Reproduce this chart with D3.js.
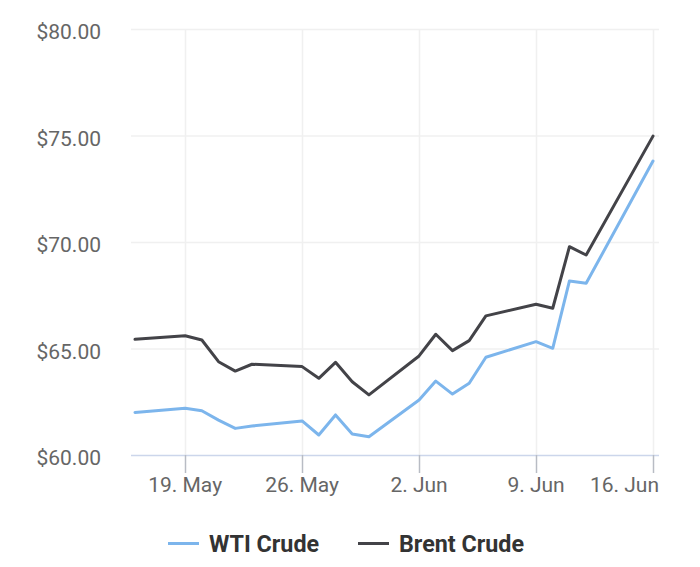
<!DOCTYPE html>
<html>
<head>
<meta charset="utf-8">
<script src="https://cdn.jsdelivr.net/npm/d3@7"></script>
<style>
  html, body { margin: 0; padding: 0; background: #ffffff; }
  svg { display: block; font-family: Roboto, "Noto Sans", sans-serif; }
</style>
</head>
<body>
<svg id="chart" width="700" height="567"></svg>
<script>
// ---- data ----
const dates = [
  "2025-05-16","2025-05-19","2025-05-20","2025-05-21","2025-05-22","2025-05-23",
  "2025-05-26","2025-05-27","2025-05-28","2025-05-29","2025-05-30",
  "2025-06-02","2025-06-03","2025-06-04","2025-06-05","2025-06-06",
  "2025-06-09","2025-06-10","2025-06-11","2025-06-12","2025-06-16"
];
const wti = [62.00, 62.19, 62.08, 61.64, 61.25, 61.36,
             61.60, 60.94, 61.88, 60.99, 60.86,
             62.58, 63.47, 62.86, 63.37, 64.59,
             65.32, 65.01, 68.17, 68.06, 73.80];
const brent = [65.43, 65.60, 65.40, 64.38, 63.94, 64.26,
               64.15, 63.60, 64.35, 63.44, 62.82,
               64.65, 65.67, 64.90, 65.37, 66.53,
               67.08, 66.89, 69.78, 69.39, 74.97];
const seriesNames = ["WTI Crude", "Brent Crude"];
const xTickDates = ["2025-05-19","2025-05-26","2025-06-02","2025-06-09","2025-06-16"];
const xTickLabels = ["19. May","26. May","2. Jun","9. Jun","16. Jun"];
const yTicks = [60, 65, 70, 75, 80];

// ---- layout ----
const plot = { left: 131, right: 659, top: 29, bottom: 455 };
const colors = ["#7cb5ec", "#434348"];
const parse = d3.utcParse("%Y-%m-%d");
const xs = dates.map(parse);

const x = d3.scaleUtc()
  .domain([xs[0], xs[xs.length - 1]])
  .range([135, 653]);
const y = d3.scaleLinear().domain([60, 80]).range([plot.bottom, plot.top]);

const svg = d3.select("#chart");

// horizontal grid
svg.append("g").selectAll("line").data(yTicks.filter(v => v !== 60)).join("line")
  .attr("x1", plot.left).attr("x2", plot.right)
  .attr("y1", d => y(d) + 0.5).attr("y2", d => y(d) + 0.5)
  .attr("stroke", "#f0f0f0").attr("stroke-width", 1.5);

// vertical grid
const tickDates = xTickDates.map(parse);
svg.append("g").selectAll("line").data(tickDates).join("line")
  .attr("x1", d => Math.round(x(d)) + 0.5).attr("x2", d => Math.round(x(d)) + 0.5)
  .attr("y1", plot.top).attr("y2", plot.bottom)
  .attr("stroke", "#f0f0f0").attr("stroke-width", 1.5);

// x axis line
svg.append("line")
  .attr("x1", plot.left).attr("x2", plot.right)
  .attr("y1", plot.bottom + 0.5).attr("y2", plot.bottom + 0.5)
  .attr("stroke", "#ccd6eb").attr("stroke-width", 1.5);

// x ticks
svg.append("g").selectAll("line").data(tickDates).join("line")
  .attr("x1", d => Math.round(x(d)) + 0.5).attr("x2", d => Math.round(x(d)) + 0.5)
  .attr("y1", plot.bottom).attr("y2", plot.bottom + 18)
  .attr("stroke", "#b8bcc4").attr("stroke-width", 1.5);

// x labels (last label kept inside the plot like Highcharts)
svg.append("g").selectAll("text").data(tickDates).join("text")
  .attr("x", d => x(d)).attr("y", plot.bottom + 37)
  .attr("text-anchor", "middle")
  .attr("font-size", 21).attr("fill", "#666666")
  .text((d, i) => xTickLabels[i])
  .each(function () {
    const bb = this.getBBox();
    if (bb.x + bb.width > plot.right) {
      d3.select(this).attr("text-anchor", "end").attr("x", plot.right);
    }
  });

// y labels
const fmt = v => "$" + d3.format(".2f")(v);
svg.append("g").selectAll("text").data(yTicks).join("text")
  .attr("x", 101).attr("y", d => y(d) + 10)
  .attr("text-anchor", "end")
  .attr("font-size", 21).attr("fill", "#666666")
  .text(fmt);

// lines
const line = d3.line().x((d, i) => x(xs[i])).y(d => y(d));
[wti, brent].forEach((s, k) => {
  svg.append("path").datum(s)
    .attr("d", line)
    .attr("fill", "none")
    .attr("stroke", colors[k])
    .attr("stroke-width", 3)
    .attr("stroke-linejoin", "round")
    .attr("stroke-linecap", "round");
});

// legend
const legendY = 543;
const legendItems = [
  { sx: 168, tx: 209 },
  { sx: 358, tx: 399 }
];
legendItems.forEach((it, k) => {
  svg.append("line")
    .attr("x1", it.sx).attr("x2", it.sx + 31)
    .attr("y1", legendY + 0.5).attr("y2", legendY + 0.5)
    .attr("stroke", colors[k]).attr("stroke-width", 3);
  svg.append("text")
    .attr("x", it.tx).attr("y", legendY + 8.5)
    .attr("font-size", 23.3).attr("font-weight", "bold").attr("fill", "#333333")
    .text(seriesNames[k]);
});
</script>
</body>
</html>
